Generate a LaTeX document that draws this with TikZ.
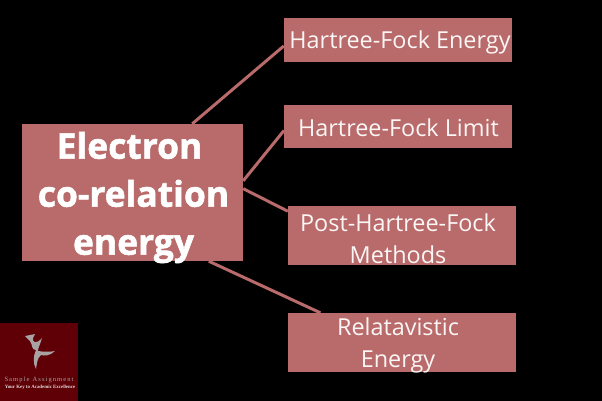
\documentclass[tikz,border=0pt]{standalone}
\usepackage{fontspec}
\setmainfont{Open Sans}
\newfontfamily\heavyfont[FakeBold=1.6]{Open Sans Bold}
\newfontfamily\logofont{Liberation Serif}
\definecolor{boxred}{HTML}{B96A6A}
\definecolor{logored}{HTML}{5E0005}
\definecolor{logogray}{HTML}{A9A2A2}
\tikzset{
  box/.style={fill=boxred,inner sep=0pt},
  boxtext/.style={text=white!94!boxred,align=center,font=\fontsize{23.4}{32}\selectfont,inner sep=0pt},
  maintext/.style={text=white,align=center,font=\heavyfont\fontsize{35.4}{48}\selectfont,inner sep=0pt},
  branch/.style={draw=boxred,line width=3pt}
}

\begin{document}
\begin{tikzpicture}[x=1pt,y=-1pt]
  % Background, fixes the page
  \fill[black] (0,0) rectangle (602,401);
  \useasboundingbox (0,0) rectangle (602,401);

  % Boxes
  \node[box,minimum width=221pt,minimum height=137pt] (main) at (132.5,192.5) {};
  \node[box,minimum width=228pt,minimum height=44pt] (energy) at (398,40) {};
  \node[box,minimum width=228pt,minimum height=43pt] (limit) at (398.2,126.5) {};
  \node[box,minimum width=228pt,minimum height=59pt] (post) at (402,235.5) {};
  \node[box,minimum width=228pt,minimum height=59pt] (rel) at (402,342.5) {};

  % Connectors
  \draw[branch] (main.49) -- (energy.183.5);
  \draw[branch] (main.6.5) -- (limit.182.8);
  \draw[branch] (main.2.3) -- (post.168.4);
  \draw[branch] (main.-42.6) -- (rel.160.6);

  % Texts
  \node[maintext] (maintxt) at (133.5,197.5) {Electron\hspace*{8pt}\\co-relation\\energy};
  \node[boxtext] (energytxt) at (400,42.5) {Hartree-Fock Energy};
  \node[boxtext] (limittxt) at (398.5,127.5) {Hartree-Fock Limit};
  \node[boxtext] (posttxt) at (398,238.5) {Post-Hartree-Fock\\Methods};
  \node[boxtext] (reltxt) at (398,345.5) {Relatavistic\\Energy};

  % Logo
  \fill[logored] (0,323) rectangle (78,401);
  \fill[logogray] (25,336) -- (35,334) -- (33,338) .. controls (32,342) and (36,345) .. (42,338)
    .. controls (40,345) and (38,348) .. (38,351) .. controls (44,352) and (50,352) .. (55,351)
    .. controls (50,356) and (44,356) .. (41,355) .. controls (37,358) and (37,364) .. (36,369)
    .. controls (33,364) and (33,356) .. (36,350) .. controls (31,350) and (33,345) .. (30,341) -- cycle;
  \node[text=logogray,font=\logofont\fontsize{6.5}{7}\selectfont] (logoname) at (39,380) {S\,a\,m\,p\,l\,e\ \ A\,s\,s\,i\,g\,n\,m\,e\,n\,t};
  \node[text=white!85!logored,font=\logofont\bfseries\fontsize{4.9}{5}\selectfont] (logokey) at (40,387) {Your Key to Academic Excellence};
\end{tikzpicture}
\end{document}
